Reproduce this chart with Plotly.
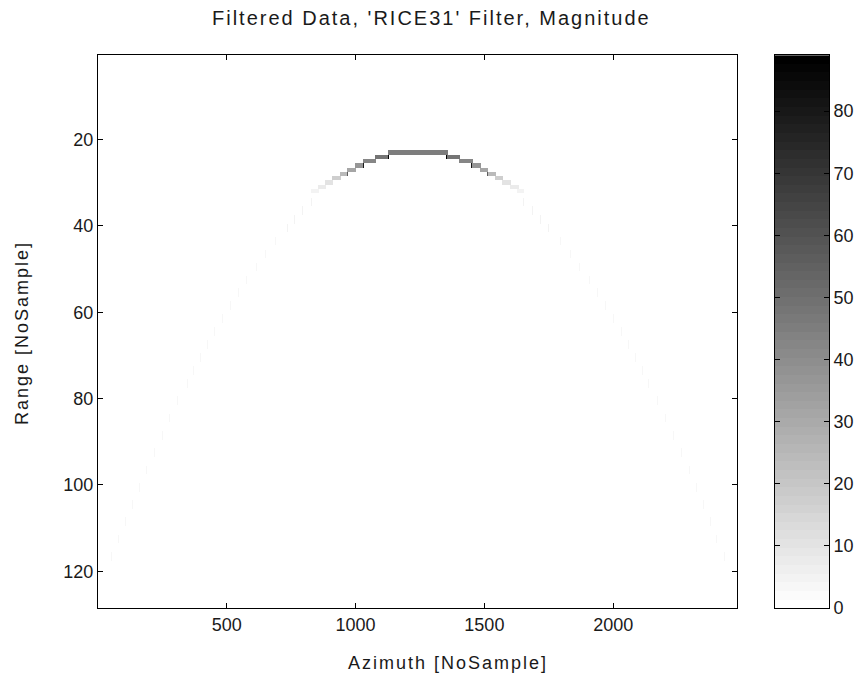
import numpy as np
import plotly.graph_objects as go

# ---------------- data ----------------
n_range = 128          # range samples (rows)
n_azimuth = 2480       # azimuth samples (columns)
az_bin = 4             # azimuth samples per drawn cell
c_max = 89.0           # colour scale top

# near-apex segments of the hyperbola: row, azimuth start/end, magnitude
seg_row      = [23,   24,   24,   25,   25,   26,   26,   27,   27,   28,   28,   29,   29,   30,   30,   31,   31,   32,   32]
seg_az_start = [1127, 1080, 1357, 1031, 1404, 999,  1453, 972,  1485, 942,  1512, 912,  1542, 882,  1572, 855,  1602, 832,  1629]
seg_az_end   = [1357, 1127, 1404, 1080, 1453, 1031, 1485, 999,  1512, 972,  1542, 942,  1572, 912,  1602, 882,  1629, 855,  1652]
seg_mag      = [45,   48,   48,   43,   43,   37,   37,   31,   31,   25,   25,   17,   17,   11,   11,   7,    7,    5,    5]

# dark single-sample peaks at the segment joints
dot_row = [24,   24,   26,   26,   28,  28]
dot_az  = [1127, 1356, 1031, 1452, 972, 1511]
dot_mag = [88,   88,   80,   80,   56,  56]

# faint tails (short vertical dashes)
tail_row      = [34, 36, 38, 40, 43, 46, 49, 52, 55, 58, 61, 64, 67, 70, 73, 76, 80, 84, 88, 92, 96, 100, 104, 108, 112, 116]
tail_az_left  = [832, 796, 764, 733, 690, 650, 613, 578, 545, 513, 482, 453, 425, 397, 371, 345, 312, 280, 249, 219, 190, 161, 134, 106, 80, 54]
tail_az_right = [1652, 1688, 1720, 1751, 1794, 1834, 1871, 1906, 1939, 1971, 2002, 2031, 2059, 2087, 2113, 2139, 2172, 2204, 2235, 2265, 2294, 2323, 2350, 2378, 2404, 2430]
tail_mag      = [5, 5, 4.5, 4.5, 4, 4, 3.5, 3.5, 3.5, 3, 3, 3, 3, 3, 3, 3, 3, 3, 3, 3, 3, 3, 3, 3, 3, 3]

x_ticks = [500, 1000, 1500, 2000]
y_ticks = [20, 40, 60, 80, 100, 120]
cb_ticks = [0, 10, 20, 30, 40, 50, 60, 70, 80]

title_text = "Filtered Data, 'RICE31' Filter, Magnitude"
x_title = "Azimuth [NoSample]"
y_title = "Range [NoSample]"

# ---------------- build the image matrix ----------------
n_cols = n_azimuth // az_bin
Z = np.zeros((n_range, n_cols))

def col(az):
    return int(min(max((az - 0.5) // az_bin, 0), n_cols - 1))

for r, a0, a1, m in zip(seg_row, seg_az_start, seg_az_end, seg_mag):
    Z[r - 1, col(a0):col(a1) + 1] = np.maximum(Z[r - 1, col(a0):col(a1) + 1], m)
for r, a, m in zip(tail_row, tail_az_left, tail_mag):
    Z[r - 1:r + 1, col(a)] = m
for r, a, m in zip(tail_row, tail_az_right, tail_mag):
    Z[r - 1:r + 1, col(a)] = m
for r, a, m in zip(dot_row, dot_az, dot_mag):
    Z[r - 1, col(a)] = m

# MATLAB-like flipud(gray(64)) stepped colour scale
n_lev = 64
cscale = []
for k in range(n_lev):
    g = int(round(255 * (n_lev - 1 - k) / (n_lev - 1)))
    c = f"rgb({g},{g},{g})"
    cscale.append([k / n_lev, c])
    cscale.append([(k + 1) / n_lev, c])

font_family = "Liberation Sans, Arial, sans-serif"
txt_col = "#1a1a1a"

def spaced(s, px):
    return f'<span style="letter-spacing:{px}px">{s}</span>'

fig = go.Figure()
fig.add_trace(go.Heatmap(
    z=Z, x0=0.5 + az_bin / 2, dx=az_bin, y0=1, dy=1,
    colorscale=cscale, zmin=0, zmax=c_max, showscale=False,
    xaxis="x", yaxis="y", hoverinfo="skip",
))

# colour bar drawn as its own small image axis
lev_centres = [(k + 0.5) * c_max / n_lev for k in range(n_lev)]
fig.add_trace(go.Heatmap(
    z=[[v] for v in lev_centres], x=[0], y=lev_centres,
    colorscale=cscale, zmin=0, zmax=c_max, showscale=False,
    xaxis="x2", yaxis="y2", hoverinfo="skip",
))

# page pixel layout (body margin removed below)
W, H = 868, 690
px_l, px_r, px_t, px_b = 98, 737, 56, 617
cb_l, cb_r = 775, 829
ydom = [1 - px_b / H, 1 - px_t / H]

axis_common = dict(showline=True, linecolor="black", linewidth=1, mirror="ticks",
                   ticks="inside", ticklen=5, tickcolor="black", showgrid=False,
                   zeroline=False, tickfont=dict(size=18, color=txt_col, family=font_family))

fig.update_layout(
    width=W, height=H,
    margin=dict(l=0, r=0, t=0, b=0),
    paper_bgcolor="white", plot_bgcolor="white",
    font=dict(family=font_family, color=txt_col),
    xaxis=dict(domain=[px_l / W, px_r / W], range=[0.5, n_azimuth + 0.5],
               tickvals=x_ticks, anchor="y", **axis_common),
    yaxis=dict(domain=ydom, range=[n_range + 0.5, 0.5], tickvals=y_ticks, anchor="x",
               **axis_common),
    xaxis2=dict(domain=[cb_l / W, cb_r / W], range=[-0.5, 0.5], anchor="y2",
                showline=True, linecolor="black", linewidth=1, mirror=True,
                showticklabels=False, ticks="", showgrid=False, zeroline=False),
    yaxis2=dict(domain=ydom, range=[0, c_max], anchor="x2", side="right",
                tickvals=cb_ticks, **axis_common),
    annotations=[
        dict(text=spaced(title_text, 2), xref="paper", yref="paper",
             x=431 / W, y=1 - 18 / H, xanchor="center", yanchor="middle",
             showarrow=False, font=dict(size=20, color=txt_col)),
        dict(text=spaced(x_title, 2), xref="paper", yref="paper",
             x=448 / W, y=1 - 673 / H, xanchor="center", yanchor="middle",
             showarrow=False, font=dict(size=18, color=txt_col)),
        dict(text=spaced(y_title, 2), xref="paper", yref="paper", textangle=-90,
             x=22 / W, y=1 - 338 / H, xanchor="center", yanchor="middle",
             showarrow=False, font=dict(size=18, color=txt_col)),
    ],
)

fig.write_html("out.html", config={"displayModeBar": False},
               post_script="document.body.style.margin='0';document.body.style.overflow='hidden';")
